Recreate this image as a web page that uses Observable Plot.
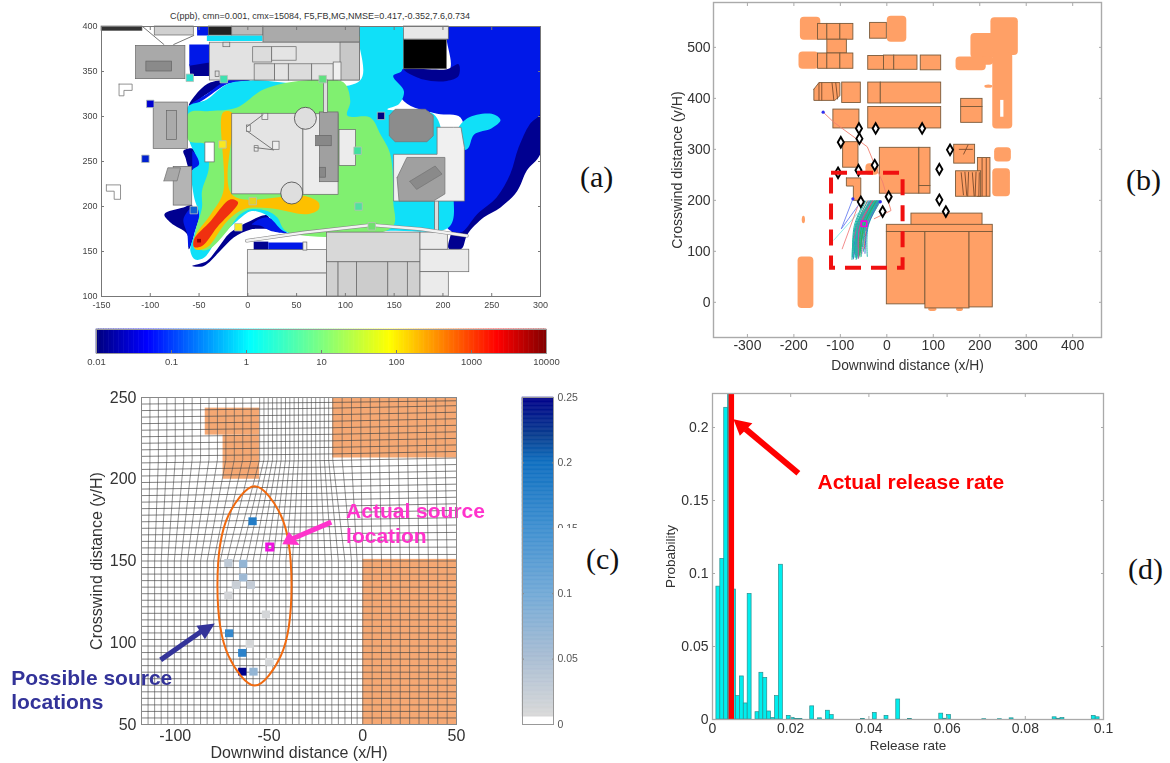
<!DOCTYPE html>
<html><head><meta charset="utf-8">
<script src="https://cdn.jsdelivr.net/npm/d3@7"></script>
<script src="https://cdn.jsdelivr.net/npm/@observablehq/plot@0.6"></script>
<style>
html,body{margin:0;padding:0;background:#fff}
#page{position:relative;width:1170px;height:763px;overflow:hidden;font-family:"Liberation Sans",sans-serif}
#page svg{position:absolute;filter:blur(0.45px)}
.tag{position:absolute;font-family:"Liberation Serif",serif;font-size:30px;color:#111;line-height:30px}
.title{position:absolute;font-size:9px;color:#333;white-space:nowrap;transform:translateX(-50%)}
</style></head><body><div id="page"></div>
<script>
// ---------- panel (a): concentration contours ----------
const titleA = "C(ppb), cmn=0.001, cmx=15084, F5,FB,MG,NMSE=0.417,-0.352,7.6,0.734";
const ticksAX = [-150,-100,-50,0,50,100,150,200,250,300];
const ticksAY = [100,150,200,250,300,350,400];
const contourLevels = [
 {fill:"#000090", rings:[
  [[300,304],[300,259],[286,240],[276,217],[259,199],[242,188],[225,169],[219,153],[206,153],[208,169],[221,206],[262,262]],
  [[-60,358],[-39.5,362],[-39.5,345],[-59,345]],
  [[-50,328.5],[-38,338],[-21,340],[-42,325],[-60.5,312]],
  [[-66,262],[-55.4,264],[-54,243],[-59,240],[-64,254.5]],
  [[-85.5,191.5],[-66,199],[-57,201],[-55.4,169],[-60.5,152.5],[-62,169],[-79,182]],
  [[-57,134],[-42,139.5],[-31.5,152.5],[-18,171],[2.6,184],[20,190],[23,177],[3,174.5],[-14.5,165.5],[-28,151],[-45,134]],
  [[6,151.5],[21,151.5],[21,161],[6,161]]
 ]},
 {fill:"#0018e8", rings:[
  [[206,400],[300,400],[300,304],[289,291.5],[277.5,265.5],[269,236],[255,210],[235,191.5],[218,171],[204,177],[209,206],[221,273],[218,299],[194,303],[160,317],[149,351],[206,351]],
  [[-60,380],[-39.5,380],[-39.5,360],[-60,356.5]],
  [[-52,390],[-40,390],[-40,400],[-52,400]],
  [[-62,308],[-42,321],[-21,336],[3,340],[-21,340],[-42,325],[-59,313]],
  [[-57,262],[-47,253],[-50,240],[-57,240]],
  [[-66,186],[-57,199],[-48.5,197],[-54,173],[-60.5,154.5],[-62,169]],
  [[4,180],[20,188],[40,171],[23,173],[13,178.5]],
  [[21,151.5],[57,151.5],[57,160],[21,160]]
 ]},
 {fill:"#000090", rings:[[[160,352.5],[204,352.5],[216,358],[216,345],[204,339.5],[180,341]]]},
 {fill:"#10e0f8", rings:[
  [[115,400],[158,400],[158,351],[149,345],[160,328],[155,314],[143,308],[190,303],[199,280],[197,258],[211,206],[206,177],[146,173],[40,171],[26,184],[20,190],[4,195],[-11,184],[-32,162],[-45,143],[-54,141],[-59,151],[-55,169],[-50,191],[-55,210],[-57,240],[-50,247],[-60,273],[-62,310],[-42,319],[-21,336],[3,340],[115,340]],
  [[-42,384],[15,384],[15,390],[-42,390]],
  [[213,281],[225,298],[250,303],[259,296],[250,287],[232,280],[225,264],[213,264]]
 ]},
 {fill:"#80f070", rings:[
  [[-60.5,304],[-38,306],[-11,310],[16,330],[57,340],[98,338],[105,317],[102,301],[125.5,299],[136,280],[146,258],[149,206],[148,177],[40,172],[30,188],[20,195],[3,197],[-8,191],[-21,173],[-40,152.5],[-50,152.5],[-54,169],[-47,199],[-47,217],[-40,243],[-43.5,269],[-60.5,273]],
  [[97,384],[115,384],[115,389],[97,389]]
 ]},
 {fill:"#fdc000", rings:[[[-25.4,304.4],[-16,304],[-16,213],[57,212],[72.6,204.4],[72.6,197],[60.6,191.5],[23,198],[-4,197],[-21,184],[-42,154.4],[-54,152.5],[-55.4,164],[-38,191.5],[-25.4,215.5]]]},
 {fill:"#f03010", rings:[[[-16,208],[-10,204.4],[-31.5,177],[-47,156],[-55,155],[-55,164],[-38,184],[-21,206]]]},
 {fill:"#9a0000", rings:[[[-52,160],[-48,160],[-48,164],[-52,164]]]}
];
// rectangles [x1,y1,x2,y2,fill]
const buildingsA = [
 [-150,395,-108,400,"#333"],[-95.4,390,-55.4,400,"#d0d0d0"],[-114.5,341.5,-64,378.5,"#a9a9a9"],[-104,350,-77.6,361,"#8a8a8a"],
 [-40,390,-16,400,"#222"],[-16,390,16,400,"#bbb"],[16,382,115,400,"#aaa"],[-39,340,115,382,"#e2e2e2"],[95,340,115,382,"#c8c8c8"],
 [5.5,360,25,377,"#dcdcdc"],[25,362,50,377,"#e4e4e4"],[7,340,28,358,"#dcdcdc"],[28,340,42,358,"#e4e4e4"],[42,340,66,358,"#dcdcdc"],[66,340,88,358,"#e4e4e4"],[88,340,96,360,"#f0f0f0"],
 [-25,377,-18,382,"#ddd"],[-33,344,-29,350,"#ddd"],
 [160,385.5,206,400,"#e8e8e8"],[160,352.5,204,385,"#000"],
 [-96.5,264,-61.5,315.5,"#b4b4b4"],[-83,274,-72.5,306,"#aaa"],
 [-16,213.5,57,303,"#e4e4e4"],[57,213,93,302.5,"#ececec"],[94,245,111,285,"#ececec"],[74,227,93,304.5,"#a0a0a0"],[70,267,86,278.5,"#888"],[74,232,80,243,"#888"],
 [26,263,32.5,272,"#eee"],[15,296,21,303,"#eee"],[-1,283,3,290,"#eee"],[7,261,11,267,"#eee"],
 [156,284,177.5,297,"#777"],
 [-76,201,-57,244,"#b4b4b4"],[-43.5,249,-34,271,"#fff"],[78,304,82.2,340,"#ddd"],[192,169,196,206,"#ddd"],
 [0,125.5,81,151.5,"#ebebeb"],[0,100,81,125.5,"#ebebeb"],[81,138,177,171,"#d8d8d8"],
 [81,100,93,138,"#d0d0d0"],[93,100,112,138,"#d0d0d0"],[112,100,144,138,"#ccc"],[144,100,164,138,"#d0d0d0"],[164,100,177,138,"#d0d0d0"],
 [177,127,227,152,"#ebebeb"],[177,152,205,171,"#ebebeb"],[177,100,206,127,"#ebebeb"],[57,151,61,160,"#f0f0f0"]
];
const shapesA = [
 {fill:"#8c8c8c",pts:[[145,301],[151,308],[182,308],[190,301],[190,278.5],[183.5,272],[151,272],[145,278.5]]},
 {fill:"#f0f0f0",pts:[[194,288],[211,288],[218.5,288],[222,265.5],[222,206],[149.4,206],[149.4,258],[194,258]]},
 {fill:"#a0a0a0",pts:[[153,232],[163,254.5],[202,254.5],[202,214],[190,206],[155,206]]},
 {fill:"#8a8a8a",pts:[[166,228],[192,245],[199,236],[173,219]]},
 {fill:"#a8a8a8",pts:[[-86,228.5],[-82,243],[-69,243],[-72.5,228.5]]},
 {fill:"#fff",pts:[[-132,336],[-118.6,336],[-118.6,329],[-127,329],[-127,323],[-132,323]]},
 {fill:"#fff",pts:[[-145,224],[-130.5,224],[-130.5,208],[-137,208],[-137,217],[-145,217]]}
];
const strutsA = [[[-108,400],[-86,380]],[[-55.4,390],[-76,380]],[[-1,288.5],[15.6,302]],[[-1,284],[26,263]],[[7,265.5],[26,263]]];
const seaWallA = [[-1,162],[57,171],[127,179.5],[177,175],[224.5,167.5]];
const tanksA = [[59,298],[45,215]];
const sensorX = [-59.5,-24.7,76.7,-100,136.5,-26,-105,112.5,-55.4,5,113.5,-9.7,127];
const sensorY = [343,341.5,341.5,314,300.7,269,253,262,196,206,200,177,178];
const sensorC = ["#30e0d0","#40e0b0","#60e080","#0000d0","#000080","#f8e820","#0020d0","#40e0a0","#1060d0","#e8d020","#50e0a0","#f8e820","#70e070"];
// colour bar (a)
const barATicks = [0.01,0.1,1,10,100,1000,10000];
const jetExponents = [-2,-1.34,0.04,1,1.9,3.34,4];
const jetColors = ["#00007f","#0000ff","#00ffff","#7fff7f","#ffff00","#ff0000","#7f0000"];

// ---------- panel (b): building footprints and trajectories ----------
const blobsB = [[-186,514,-142,559],[-189,457,-146,491],[1,510,43,561],[-191,-12,-157,89],[224,484,283,558],[181,478,232,527],[149,454,214,481],[205,465,230,482],[228,340,271,490],[232,275,268,303],[228,207,266,262],[-182,154,-175,169],[-45,249,-17,272],[211,420,228,426],[90,-18,108,-10],[150,-18,165,-10]];
const holesB = [[245,363,252,396]];
const boxesB = [
 [-148,515,-128,546],[-128,515,-100,546],[-100,515,-72,546],[-128,488,-86,515],[-148,458,-128,488],[-128,458,-100,488],[-100,458,-72,488],
 [-36,517,0,548],[-40,456,-6,483],[-6,456,16,484],[16,456,66,484],[73,455,117,484],
 [-96,391,-56,431],[-40,390,-13,431],[-13,390,117,431],[-40,341,117,383],[160,352,206,383],[160,383,206,399],
 [-115,341,-59,378],[-94,264,-61,314],[-15,213,70,303],[70,228,94,303],[70,213,94,228],[145,272,190,309],[196,207,223,283],[149,207,203,257],
 [53,151,206,174],[0,138,228,152],[0,-4,83,138],[83,-12,178,138],[178,-10,228,138]
];
const shapesB = [
 [[-157,418],[-146,431],[-101,431],[-101,405],[-112,396],[-157,396]],
 [[-87,244],[-56,244],[-56,200],[-72,200],[-72,228],[-87,228]]
];
const hatchB = [[-146,431,-146,396],[-140,431,-140,396],[-118,431,-114,396],[-110,431,-106,398],[160,255,165,210],[168,256,172,209],[176,256,174,208],[184,255,188,208],[192,256,190,208],[199,255,198,208],[205,283,205,208],[214,283,214,208],[155,300,185,300],[165,290,175,309]];
const diamondX = [-60,-24,76,-59,-99,136,-26,-61,-105,113,4,-56,-9,113,127];
const diamondY = [341,341,341,321,314,299,269,259,254,261,207,197,178,201,178];
const ticksBX = [-300,-200,-100,0,100,200,300,400];
const ticksBY = [0,100,200,300,400,500];
const studyBox = [-119,67,35,253];
const trajStart = [-48,-45,-42,-40,-38,-36,-34,-32,-30,-28,-26,-25,-24,-23,-22,-21,-20,-19,-18,-17,-16,-15,-14,-13,-20,-24,-28,-32,-36,-18,-22,-26,-30,-34,-16,-19,-23,-27,-31,-35];
const trajMid = [-70,-68,-64,-66,-60,-64,-58,-62,-56,-60,-52,-57,-50,-55,-48,-53,-46,-52,-45,-51,-44,-50,-42,-40,-56,-60,-54,-65,-63,-47,-59,-50,-57,-67,-41,-45,-49,-55,-58,-62];
const trajEnd = [-74,-72,-70,-68,-71,-66,-69,-64,-67,-62,-70,-65,-60,-68,-58,-63,-56,-66,-54,-61,-50,-59,-48,-42,-72,-64,-60,-73,-70,-57,-68,-55,-62,-75,-47,-52,-58,-65,-61,-69];
const trajEndY = [90,85,95,88,110,92,100,87,96,90,105,86,93,89,98,91,112,84,95,88,100,92,105,90,86,118,94,88,125,102,97,90,108,84,96,110,89,93,86,99];
const trajColors = ["#1fb5a8","#1fb5a8","#e05555","#1fb5a8","#3a6fd8","#1fb5a8","#35b050","#1fb5a8","#c050a0","#1fb5a8"];
const strayPaths = [
 {stroke:"#f08070",pts:[[-137,373],[-114,353],[-42,305],[-27,272],[-9,236],[9,180],[-27,164]]},
 {stroke:"#6a7ff0",pts:[[-73,203],[-98,144],[-56,197]]},
 {stroke:"#80e8e8",pts:[[-114,122],[-63,174]]},
 {stroke:"#f08080",pts:[[-96,105],[-63,187]]}
];
const strayStarts = [[-137,373],[-73,203],[-14,197]];
const sourceB = [-49,154];

// ---------- panel (c): probability of source location ----------
const ticksCX = [-100,-50,0,50];
const ticksCY = [50,100,150,200,250];
const gridXLow = [-118,-114.5,-111,-107.5,-104,-100.5,-97,-93.5,-90,-86.5,-83,-79.5,-76,-72.5,-69,-65.5,-62,-58.5,-55,-51.5,-48,-44.5,-41,-37.5,-34,-30.5,-27,-23.5,-20,-16.5,-13,-9.5,-6,-3,0,5,10,15,20,25,30,35,40,45,50];
const gridXHigh = [-118,-113.5,-109,-104.5,-100,-95.5,-91,-86.5,-82,-77.5,-73,-68.5,-64,-59.5,-55,-52.7,-50.4,-48.1,-45.8,-43.5,-41.2,-38.9,-36.6,-34.3,-32,-29.7,-27.4,-25.1,-22.8,-20.5,-18.2,-16,-11,-6,-1,4,9,14,19,24,29,34,39,44,50];
const gridYLeft = [50,54,58,62,66,70,74,78,82,86,90,94,98,102,106,110,114,118,122,126,130,134,138,142,146,150,154,158,162,166,170,174,178,182,186,190,194,198,202,206,210,214,218,222,226,230,234,238,242,246,250];
const gridYRight = [50,54,58,62,66,70,74,78,82,86,90,94,98,102,106,110,114,118,122,126,130,134,138,142,146,150,154,158.5,163,167.5,172,176.5,181,185,189,193,197,201,205,209,213,217,221,225,229,233,237,241,245,248,250];
const orangeC = [[-84,227,-55,243.5],[-74.5,200,-55,227],[-16,213,50,250],[0,50,50,151]];
const cellX = [-58.5,-71.4,-63.5,-63.5,-67.4,-59.4,-71.4,-51.4,-71,-60,-64,-49.6,-64,-58];
const cellY = [174,148.5,148,139.6,135,135,128.6,117,105.5,99,93.5,88,82,82];
const cellP = [0.18,0.03,0.07,0.06,0.02,0.025,0.012,0.01,0.16,0.01,0.17,0.01,0.25,0.07];
const ellipseC = [[-57.6,195.7],[-43.7,178],[-38,135],[-43.7,92],[-57.6,73.8],[-71.6,92],[-77.5,135],[-71.6,178]];
const sourceC = [-49.6,158.5];
const pinkShaft = [-16.8,173.8,-37.2,163.8];
const pinkHead = [[-42.9,160.2],[-33.7,159.8],[-39.4,167.9]];
const blueShaft = [-107.8,89.5,-86,107];
const blueHead = [[-78.9,111.8],[-88.7,110.4],[-84.2,102.2]];
const barCTicks = [0,0.05,0.1,0.15,0.2,0.25];
const probStops = [0,0.0059,0.006,0.05,0.1,0.15,0.2,0.22,0.25];
const probColors = ["#ffffff","#ffffff","#d8d8d8","#a9bdd3","#72a9d6","#3f8fd0","#0f6fc0","#0a3f90","#00008a"];

// ---------- panel (d): release-rate histogram ----------
const binIndex = [1,2,3,4,5,6,7,8,9,11,12,13,14,15,16,17,19,20,21,22,25,27,29,30,38,41,44,47,50,58,59,60,69,73,76,87,88,89,97,98];
const binProb = [0.091,0.11,0.2135,0.223,0.089,0.016,0.0295,0.011,0.086,0.005,0.032,0.0285,0.0055,0.001,0.016,0.106,0.0025,0.001,0.0003,0.0003,0.009,0.0008,0.006,0.003,0.0003,0.0045,0.0025,0.0137,0.0004,0.004,0.0005,0.003,0.0002,0.0002,0.0008,0.0015,0.0005,0.001,0.0025,0.0015];
const binWidth = 0.001;
const ticksDX = [0,0.02,0.04,0.06,0.08,0.1];
const ticksDY = [0,0.05,0.1,0.15,0.2];
const actualRate = 0.0048;
const redShaft = [0.02196,0.1687,0.0085,0.1989];
const redHead = [[0.00536,0.2057],[0.0102,0.203],[0.00698,0.1943]];

// ---------- helpers ----------
const FONT = '"Liberation Sans",sans-serif';
const page = document.getElementById("page");
function polys(rings, options) {
  const closedCurve = String(options.curve ?? "").endsWith("closed");
  const data = rings.flatMap((ring, id) => (closedCurve ? ring : [...ring, ring[0]]).map(p => ({id, x:p[0], y:p[1]})));
  return Plot.line(data, {x:"x", y:"y", z:"id", curve:"linear", stroke:"none", ...options});
}
const boxes = (list, options) => Plot.rect(list, {x1:d=>d[0], y1:d=>d[1], x2:d=>d[2], y2:d=>d[3], ...options});
const solidArrow = (shaft, head, color, width) => [
  Plot.link([shaft], {x1:d=>d[0], y1:d=>d[1], x2:d=>d[2], y2:d=>d[3], stroke:color, strokeWidth:width, strokeLinecap:"butt"}),
  polys([head], {fill:color})
];
function axes({xt, yt, fs, pad=5, xpad=0, color="#333", frame="#aaa", fw=1, tick=3}) {
  const blank = () => "";
  const common = {tickSize:-tick, stroke:frame, fill:color, fontSize:fs, label:null, tickPadding:pad+tick};
  return [
    Plot.axisX(xt, {...common, anchor:"bottom", tickFormat:String, tickPadding:pad+tick+xpad}),
    Plot.axisX(xt, {...common, anchor:"top", tickFormat:blank}),
    Plot.axisY(yt, {...common, anchor:"left", tickFormat:String}),
    Plot.axisY(yt, {...common, anchor:"right", tickFormat:blank}),
    Plot.frame({stroke:frame, strokeWidth:fw})
  ];
}
function panel({l, t, r, b, ml=45, mr=15, mt=8, mb=45, x, y, color, marks}) {
  const svg = Plot.plot({
    width: ml + (r - l) + mr, height: mt + (b - t) + mb,
    marginLeft: ml, marginRight: mr, marginTop: mt, marginBottom: mb,
    x: {...x}, y: {...y}, color: color ?? {type:"identity"},
    style: {fontFamily: FONT, background: "transparent", overflow: "visible"},
    marks
  });
  svg.style.left = (l - ml) + "px";
  svg.style.top = (t - mt) + "px";
  page.appendChild(svg);
}
const xLabel = (text, fs, dy) => Plot.text([text], {frameAnchor:"bottom", dy, fontSize:fs, fill:"#333"});
const yLabel = (text, fs, dx) => Plot.text([text], {frameAnchor:"left", dx, rotate:-90, textAnchor:"middle", fontSize:fs, fill:"#333"});

// ---------- draw (a) ----------
panel({l:101, t:26, r:540, b:296, x:{domain:[-150,300]}, y:{domain:[100,400]}, marks:[
  ...contourLevels.flatMap(c => c.rings.map(ring => polys([ring], {fill:c.fill, clip:true, curve: ring.length > 4 ? "catmull-rom-closed" : "linear"}))),
  boxes(buildingsA, {fill:d=>d[4], stroke:"#666", strokeWidth:0.7}),
  ...shapesA.map(s => polys([s.pts], {fill:s.fill, stroke:"#777", strokeWidth:0.8})),
  Plot.line(seaWallA, {x:d=>d[0], y:d=>d[1], stroke:"#888", strokeWidth:3.6}),
  Plot.line(seaWallA, {x:d=>d[0], y:d=>d[1], stroke:"#f2f2f2", strokeWidth:2.4}),
  ...strutsA.map(s => Plot.line(s, {x:d=>d[0], y:d=>d[1], stroke:"#777", strokeWidth:1})),
  Plot.dot(tanksA, {x:d=>d[0], y:d=>d[1], r:11, fill:"#dedede", stroke:"#444", strokeWidth:0.8}),
  Plot.dot(sensorX, {x:d=>d, y:(d,i)=>sensorY[i], fill:(d,i)=>sensorC[i], symbol:"square", r:4.2, stroke:"#b5c0b5", strokeWidth:0.8}),
  ...axes({xt:ticksAX, yt:ticksAY, fs:9, pad:4, xpad:1.5, color:"#444", frame:"#777"})
]});
const ta = document.createElement("div");
ta.className = "title"; ta.textContent = titleA; ta.style.left = "320px"; ta.style.top = "11px";
page.appendChild(ta);
const jetBands = d3.range(0,180).map(i => ({x1:10**(-2+i/30), x2:10**(-2+(i+1)/30), e:-2+i/30}));
panel({l:96, t:329, r:546, b:353, mb:20, mt:4,
  x:{type:"log", domain:[0.01,10000]}, y:{domain:[0,1], axis:null},
  color:{type:"linear", domain:jetExponents, range:jetColors},
  marks:[
    Plot.rect(jetBands, {x1:"x1", x2:"x2", fill:"e", stroke:"e", strokeWidth:0.6}),
    Plot.axisX(barATicks, {anchor:"bottom", tickSize:-3, tickPadding:8, tickFormat:String, fontSize:9.5, fill:"#444", stroke:"#777", label:null}),
    Plot.frame({stroke:"#999"})
  ]});

// ---------- draw (b) ----------
const trajRows = trajStart.flatMap((s,i) => [[s,199],[trajMid[i],150],[trajEnd[i],trajEndY[i]]].map(p => ({i, x:p[0], y:p[1], c:trajColors[i%trajColors.length]})));
panel({l:713, t:2, r:1101, b:337, ml:50, mt:2, mb:40,
  x:{domain:[-373,462]}, y:{domain:[-69,588]}, marks:[
  boxes(blobsB, {fill:"#ffa066", rx:4}),
  boxes(holesB, {fill:"#fff"}),
  boxes(boxesB, {fill:"#ffa066", stroke:"#7a5a3a", strokeWidth:0.9}),
  polys(shapesB, {fill:"#ffa066", stroke:"#7a5a3a", strokeWidth:0.9}),
  Plot.link(hatchB, {x1:d=>d[0], y1:d=>d[1], x2:d=>d[2], y2:d=>d[3], stroke:"#7a4a2a", strokeWidth:0.9}),
  ...strayPaths.map(s => Plot.line(s.pts, {x:d=>d[0], y:d=>d[1], stroke:s.stroke, strokeWidth:0.9})),
  Plot.line(trajRows, {x:"x", y:"y", z:"i", stroke:"c", strokeWidth:1, curve:"catmull-rom"}),
  Plot.dot(strayStarts, {x:d=>d[0], y:d=>d[1], r:1.6, fill:"#3030f0"}),
  Plot.dot(diamondX, {x:d=>d, y:(d,i)=>diamondY[i], symbol:"diamond", r:3.2, fill:"#fff", stroke:"#000", strokeWidth:1.9}),
  Plot.dot([sourceB], {x:d=>d[0], y:d=>d[1], symbol:"square", r:3, stroke:"#f000e0", strokeWidth:1.6, fill:"none"}),
  Plot.rect([studyBox], {x1:d=>d[0], y1:d=>d[1], x2:d=>d[2], y2:d=>d[3], fill:"none", stroke:"#f01010", strokeWidth:4, strokeDasharray:"16,10"}),
  ...axes({xt:ticksBX, yt:ticksBY, fs:14, pad:3, frame:"#aaa", fw:1.4, tick:3}),
  xLabel("Downwind distance (x/H)", 13.8, 32),
  yLabel("Crosswind distance (y/H)", 14.2, -36)
]});

// ---------- draw (c) ----------
const vertRows = gridXLow.flatMap((v,i) => [[v,50],[v,150],[gridXHigh[i],212],[gridXHigh[i],250]].map(p => ({i, x:p[0], y:p[1]})));
const horzRows = gridYLeft.flatMap((v,i) => [[-118,v],[-16,(v+gridYRight[i])/2],[50,gridYRight[i]]].map(p => ({i, x:p[0], y:p[1]})));
panel({l:141, t:397, r:456, b:724, ml:135, mb:38, mt:5, mr:10,
  x:{domain:[-118,50]}, y:{domain:[50,250]},
  color:{type:"linear", domain:probStops, range:probColors},
  marks:[
  boxes(orangeC, {fill:"#f5a873"}),
  Plot.line(vertRows, {x:"x", y:"y", z:"i", stroke:"#555", strokeWidth:0.85, strokeOpacity:0.75}),
  Plot.line(horzRows, {x:"x", y:"y", z:"i", stroke:"#444", strokeWidth:0.85, strokeOpacity:0.8}),
  Plot.rect(cellX, {x1:d=>d-2.2, x2:d=>d+2.2, y1:(d,i)=>cellY[i]-2.4, y2:(d,i)=>cellY[i]+2.4, fill:(d,i)=>cellP[i]}),
  Plot.line(ellipseC, {x:d=>d[0], y:d=>d[1], curve:"catmull-rom-closed", stroke:"#f06a10", strokeWidth:2}),
  Plot.dot([sourceC], {x:d=>d[0], y:d=>d[1], symbol:"square", r:3.4, stroke:"#ee10e0", strokeWidth:3, fill:"none"}),
  ...solidArrow(pinkShaft, pinkHead, "#ff33cc", 5),
  ...solidArrow(blueShaft, blueHead, "#333399", 5),
  Plot.text(["Actual source","location"], {x:[-8.9,-8.9], y:[180.5,165], textAnchor:"start", fill:"#ff33cc", fontSize:21, fontWeight:"bold"}),
  Plot.text(["Possible source","locations"], {x:[-187.5,-187.5], y:[78,63.4], textAnchor:"start", fill:"#333399", fontSize:21, fontWeight:"bold"}),
  ...axes({xt:ticksCX, yt:ticksCY, fs:16, pad:5, frame:"#888", tick:0}),
  xLabel("Downwind distance (x/H)", 16, 33),
  yLabel("Crosswind distance (y/H)", 16, -45)
]});
const probBands = d3.range(0,250).map(i => ({y1:i/1000, y2:(i+1)/1000, p:i/1000}));
panel({l:522, t:397, r:553, b:724, ml:5, mr:32, mt:5, mb:8,
  x:{domain:[0,1], axis:null}, y:{domain:[0,0.25]},
  color:{type:"linear", domain:probStops, range:probColors},
  marks:[
    Plot.rect(probBands, {y1:"y1", y2:"y2", fill:"p", stroke:"p", strokeWidth:0.5}),
    Plot.axisY(barCTicks, {anchor:"right", tickSize:-2, tickPadding:6, tickFormat:String, fontSize:10.5, fill:"#555", stroke:"#888", label:null}),
    Plot.axisY(barCTicks, {anchor:"left", tickSize:-2, tickFormat:()=>"", stroke:"#888", label:null}),
    Plot.frame({stroke:"#999"})
  ]});
const mask = document.createElement("div");
mask.style.cssText = "position:absolute;left:556px;top:528px;width:30px;height:9px;background:#fff";
page.appendChild(mask);

// ---------- draw (d) ----------
panel({l:712, t:393, r:1103, b:719, ml:50, mt:3, mb:40, mr:15,
  x:{domain:[0,0.1]}, y:{domain:[0,0.2233]}, marks:[
  Plot.rectY(binIndex, {x1:d=>d*binWidth, x2:d=>(d+1)*binWidth, y:(d,i)=>binProb[i], fill:"#00eeee", stroke:"#2a8f8f", strokeWidth:0.7, inset:0}),
  Plot.ruleX([actualRate], {stroke:"#ff0000", strokeWidth:5.6}),
  ...solidArrow(redShaft, redHead, "#ff0000", 6),
  Plot.text(["Actual release rate"], {x:[0.02685], y:[0.1623], textAnchor:"start", fill:"#ff0000", fontSize:21, fontWeight:"bold"}),
  ...axes({xt:ticksDX, yt:ticksDY, fs:14, pad:4, frame:"#aaa", fw:1.3, tick:3}),
  xLabel("Release rate", 13.5, 30),
  yLabel("Probability", 13.5, -42)
]});

// ---------- panel tags ----------
[["(a)",580,162],["(b)",1126,165],["(c)",586,544],["(d)",1128,554]].forEach(([s,x,y]) => {
  const e = document.createElement("div");
  e.className = "tag"; e.textContent = s; e.style.left = x + "px"; e.style.top = y + "px";
  page.appendChild(e);
});
</script></body></html>
